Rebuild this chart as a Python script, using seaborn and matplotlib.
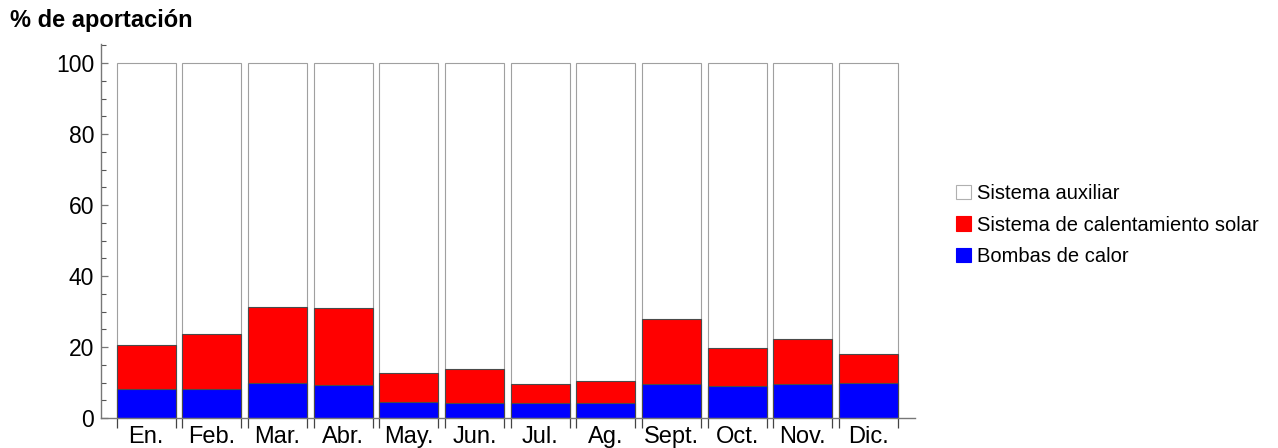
import matplotlib
matplotlib.use("Agg")
import matplotlib.pyplot as plt
from matplotlib.patches import Patch
from matplotlib.ticker import MultipleLocator, FixedLocator, NullFormatter
import seaborn as sns
import numpy as np

meses = ["En.", "Feb.", "Mar.", "Abr.", "May.", "Jun.", "Jul.", "Ag.", "Sept.", "Oct.", "Nov.", "Dic."]
bombas_calor = [8.3, 8.3, 9.9, 9.4, 4.4, 4.2, 4.2, 4.2, 9.6, 9.1, 9.6, 10.0]
calentamiento_solar = [12.2, 15.4, 21.3, 21.6, 8.3, 9.7, 5.4, 6.3, 18.2, 10.6, 12.7, 7.9]
sistema_auxiliar = [79.5, 76.3, 68.8, 69.0, 87.3, 86.1, 90.4, 89.5, 72.2, 80.3, 77.7, 82.1]

series_nombres = ["Sistema auxiliar", "Sistema de calentamiento solar", "Bombas de calor"]
colores = ["white", "#ff0000", "#0000ff"]

sns.set_style("white")
plt.rcParams["font.family"] = ["Liberation Sans", "DejaVu Sans"]
plt.rcParams["text.color"] = "black"
plt.rcParams["xtick.color"] = "black"
plt.rcParams["ytick.color"] = "black"

fig = plt.figure(figsize=(12.78, 4.48), dpi=100)
ax = fig.add_axes([101 / 1278, 30 / 448, (915 - 101) / 1278, (418 - 44) / 448])

bomb = np.array(bombas_calor)
sol = np.array(calentamiento_solar)
aux = np.array(sistema_auxiliar)

capas = [
    (bomb + sol + aux, colores[0], "#a0a0a0"),
    (bomb + sol, colores[1], "#4a4a4a"),
    (bomb, colores[2], "#4a4a4a"),
]
for alturas, color, borde in capas:
    sns.barplot(x=meses, y=alturas, order=meses, color=color, saturation=1,
                width=0.9, edgecolor=borde, linewidth=0.8, ax=ax)

ax.set_xlim(-0.69, 11.71)
ax.set_ylim(0, 105.4)
ax.set_xlabel("")
ax.set_ylabel("")

for lado in ["top", "right"]:
    ax.spines[lado].set_visible(False)
for lado in ["left", "bottom"]:
    ax.spines[lado].set_color("#777777")
    ax.spines[lado].set_linewidth(1.0)

ax.yaxis.set_major_locator(MultipleLocator(20))
ax.yaxis.set_minor_locator(MultipleLocator(5))
ax.tick_params(axis="y", which="major", direction="in", length=5, width=0.9,
               color="#777777", labelcolor="black", labelsize=16.5, pad=5, left=True)
ax.tick_params(axis="y", which="minor", direction="in", length=3.5, width=0.8,
               color="#555555", left=True)

# month labels centred under each bar, tick marks at the bar edges
pos = np.arange(len(meses))
ax.set_xticks(pos)
ax.set_xticklabels(meses)
ax.tick_params(axis="x", which="major", length=0, labelsize=17, labelcolor="black", pad=6)
bordes = np.concatenate([pos - 0.45, pos + 0.45])
ax.xaxis.set_minor_locator(FixedLocator(sorted(bordes)))
ax.xaxis.set_minor_formatter(NullFormatter())
ax.tick_params(axis="x", which="minor", direction="out", length=7, width=0.9,
               color="#444444", bottom=True)

fig.text(10 / 1278, 1 - 20 / 448, "% de aportación", fontsize=17, fontweight="bold",
         color="black", ha="left", va="center")

manejadores = [Patch(facecolor=c, edgecolor="#b0b0b0" if c == "white" else c, linewidth=0.8)
               for c in colores]
fig.legend(manejadores, series_nombres, loc="center left",
           bbox_to_anchor=(948 / 1278, 1 - 225 / 448), frameon=False, fontsize=14.5,
           handlelength=0.75, handleheight=0.75, handletextpad=0.3, labelspacing=0.62,
           borderaxespad=0)

fig.savefig("out.png", dpi=100)
